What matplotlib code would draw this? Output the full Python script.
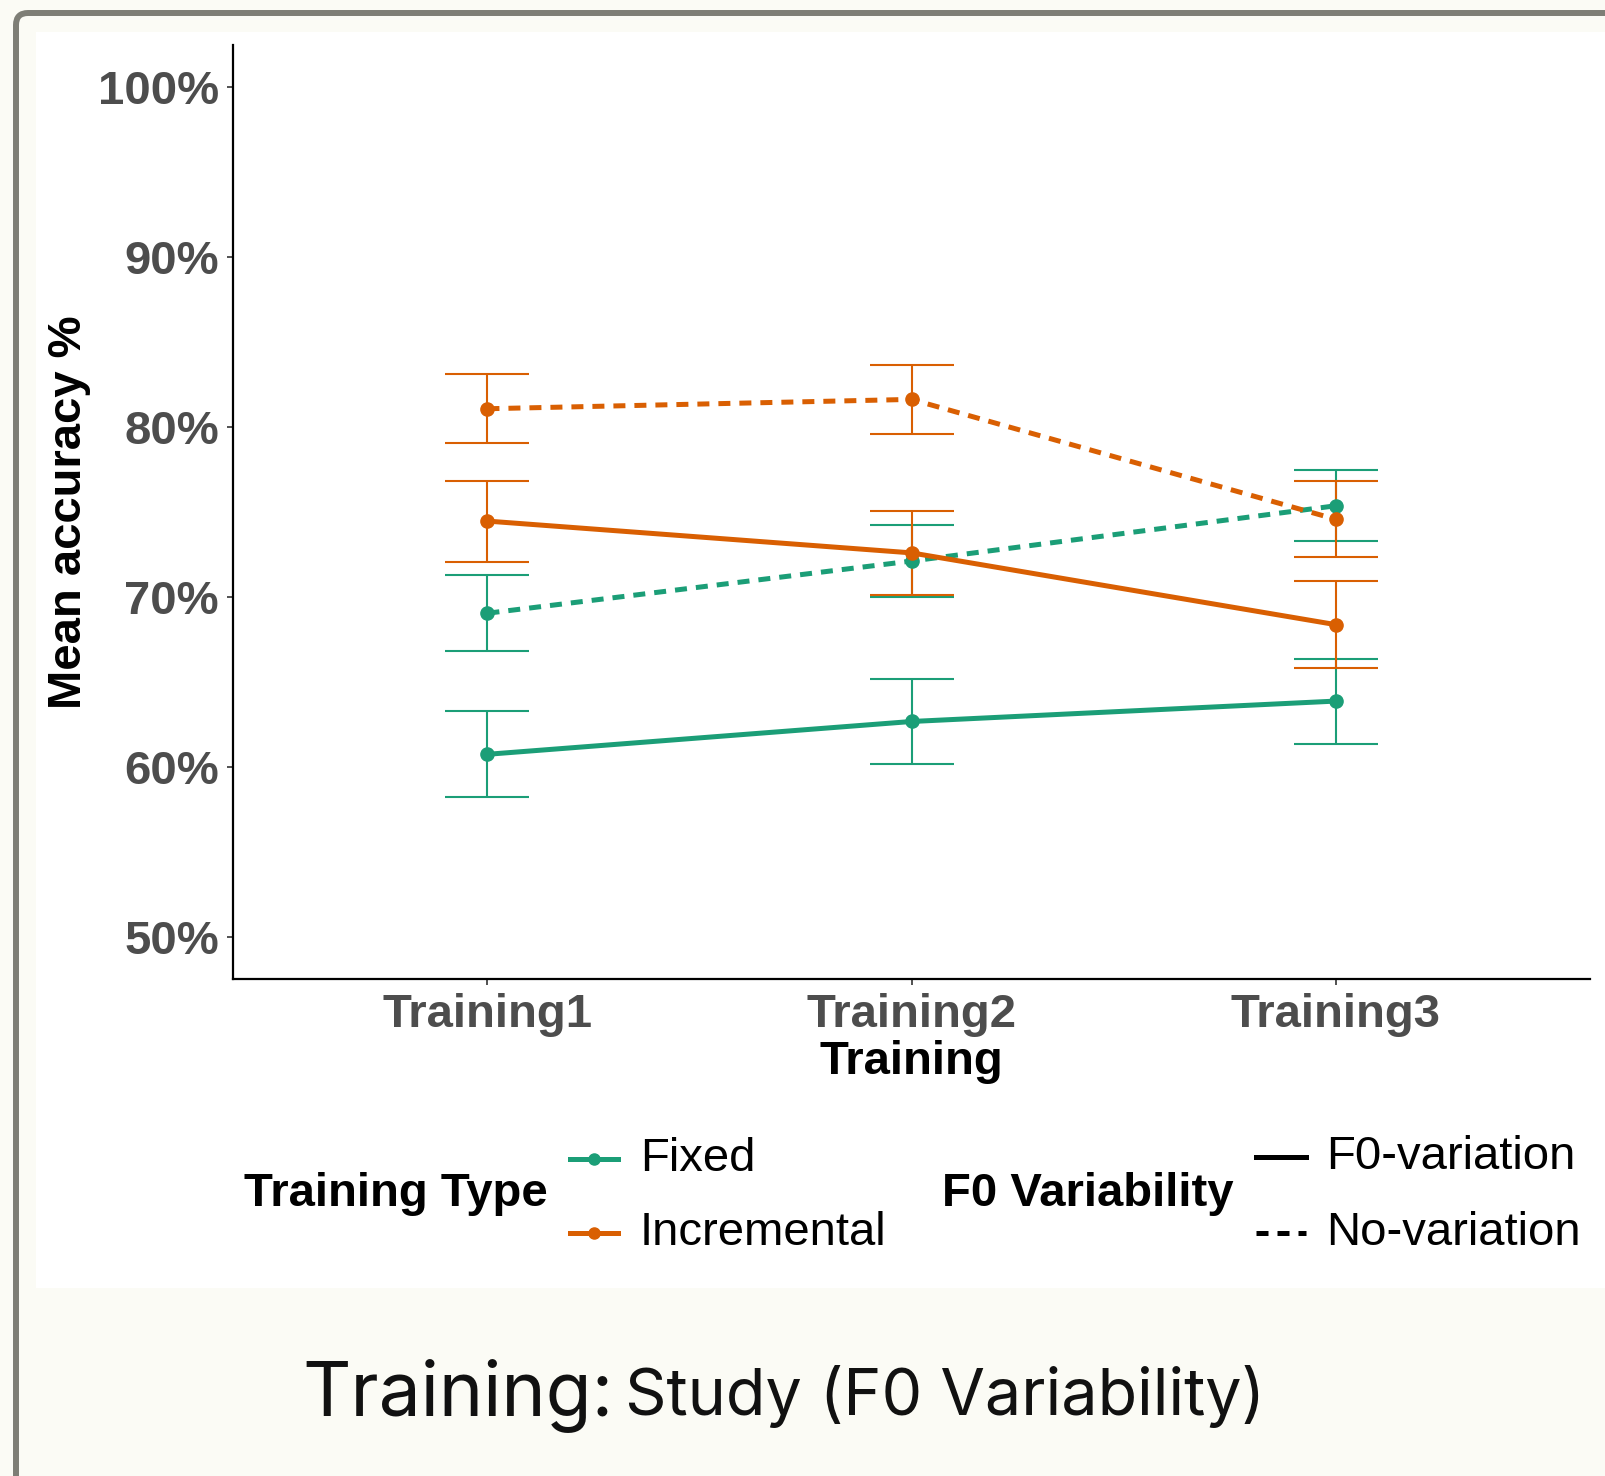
import numpy as np
import matplotlib
matplotlib.use("Agg")
import matplotlib.pyplot as plt
from matplotlib.lines import Line2D
from matplotlib.patches import Rectangle, FancyBboxPatch
from matplotlib.transforms import IdentityTransform
from matplotlib.ticker import FuncFormatter

# data (mean accuracy % and error bar half-width)
sessions = ["Training1", "Training2", "Training3"]
fixed_f0 = [60.77, 62.70, 63.90]
fixed_f0_se = [2.53, 2.52, 2.50]
fixed_nov = [69.07, 72.14, 75.39]
fixed_nov_se = [2.23, 2.14, 2.08]
incr_f0 = [74.49, 72.62, 68.40]
incr_f0_se = [2.38, 2.45, 2.56]
incr_nov = [81.10, 81.65, 74.60]
incr_nov_se = [2.02, 2.02, 2.25]

green = "#1B9E77"
orange = "#D95F02"
W, H = 1606, 1476
dash = (2.4, 1.8)

plt.rcParams['font.family'] = ['Liberation Sans', 'DejaVu Sans']

fig = plt.figure(figsize=(W / 100, H / 100), dpi=100, facecolor="#FBFBF5")

# white panel and slide border (pixel coords, origin bottom-left)
fig.add_artist(Rectangle((36, H - 1288), W, 1288 - 32, transform=IdentityTransform(),
                         facecolor="white", edgecolor="none", zorder=-5))
fig.add_artist(FancyBboxPatch((16, -50), W + 50, H - 13 + 50, transform=IdentityTransform(),
                              boxstyle="round,pad=0,rounding_size=12",
                              facecolor="none", edgecolor="#7E7E76", linewidth=4.3, zorder=-4))

ax = fig.add_axes([233 / W, 1 - 979 / H, (1590 - 233) / W, (979 - 45) / H])
ax.set_facecolor("none")
x = np.arange(1, len(sessions) + 1)

series = [
    (fixed_f0, fixed_f0_se, green, "-"),
    (fixed_nov, fixed_nov_se, green, "--"),
    (incr_f0, incr_f0_se, orange, "-"),
    (incr_nov, incr_nov_se, orange, "--"),
]
for m, se, c, ls in series:
    ax.errorbar(x, m, yerr=se, fmt="none", ecolor=c, elinewidth=1.5,
                capsize=30.5, capthick=1.5, zorder=2)
for m, se, c, ls in series:
    line, = ax.plot(x, m, color=c, lw=3.6, ls=ls, marker="o", ms=9.5, zorder=3)
    if ls == "--":
        line.set_dashes(dash)

ax.set_xlim(0.4, 3.6)
ax.set_ylim(47.55, 102.5)
ax.set_xticks(x)
ax.set_xticklabels(sessions)
ax.set_yticks([50, 60, 70, 80, 90, 100])
ax.yaxis.set_major_formatter(FuncFormatter(lambda v, p: f"{v:.0f}%"))
for s in ["top", "right"]:
    ax.spines[s].set_visible(False)
for s in ["left", "bottom"]:
    ax.spines[s].set_linewidth(1.6)
ax.tick_params(axis="both", length=4, width=1.2, color="#333333",
               labelsize=34, labelcolor="#4D4D4D", pad=6)
for lab in ax.get_xticklabels() + ax.get_yticklabels():
    lab.set_fontweight("bold")
ax.set_xlabel("Training", fontsize=34, fontweight="bold", labelpad=2)
ax.set_ylabel("Mean accuracy %", fontsize=34, fontweight="bold", labelpad=5)

# legend drawn by hand (titles sit to the left of the keys)
def fx(px):
    return px / W

def fy(py):
    return 1 - py / H

fig.text(fx(244), fy(1194), "Training Type", fontsize=34, fontweight="bold", va="center")
fig.text(fx(942), fy(1194), "F0 Variability", fontsize=34, fontweight="bold", va="center")
for yy, c, lab in [(1159, green, "Fixed"), (1233, orange, "Incremental")]:
    fig.add_artist(Line2D([fx(570), fx(618)], [fy(yy), fy(yy)], color=c, lw=3.6,
                          transform=fig.transFigure))
    fig.add_artist(Line2D([fx(594)], [fy(yy)], color=c, marker="o", ms=8,
                          transform=fig.transFigure))
    fig.text(fx(640), fy(yy), lab, fontsize=34, va="center")
for yy, ls, lab in [(1157, "-", "F0-variation"), (1233, "--", "No-variation")]:
    ln = Line2D([fx(1256), fx(1306)], [fy(yy), fy(yy)], color="black", lw=3.6, ls=ls,
                transform=fig.transFigure)
    if ls == "--":
        ln.set_dashes(dash)
    fig.add_artist(ln)
    fig.text(fx(1326), fy(yy), lab, fontsize=34, va="center")

# slide caption
t1 = fig.text(fx(302), fy(1415), "Training:", fontsize=54, family=["Inter", "DejaVu Sans"],
              va="baseline", color="#111111")
fig.canvas.draw()
bb = t1.get_window_extent()
fig.text((bb.x1 + 12) / W, fy(1415), "Study (F0 Variability)", fontsize=46.5,
         family=["Inter", "DejaVu Sans"], va="baseline", color="#111111")

fig.savefig("out.png", dpi=100, facecolor=fig.get_facecolor())
